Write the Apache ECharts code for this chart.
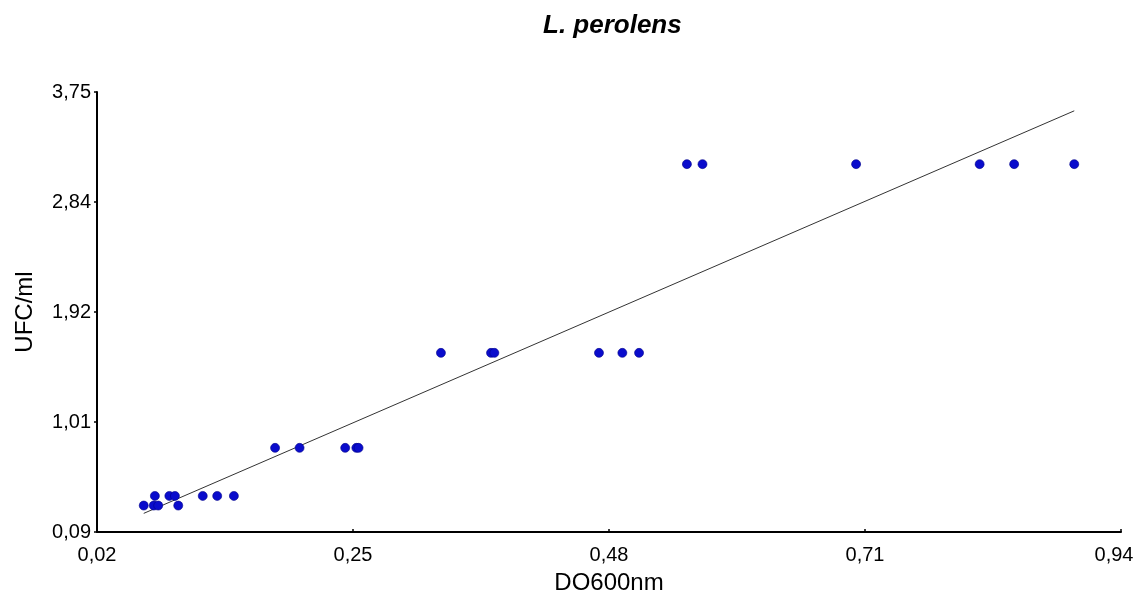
<!DOCTYPE html>
<html>
<head>
<meta charset="utf-8">
<title>L. perolens</title>
<script src="https://cdn.jsdelivr.net/npm/echarts@6/dist/echarts.min.js"></script>
<style>
  html, body { margin: 0; padding: 0; background: #ffffff; }
  #chart { width: 1137px; height: 596px; }
</style>
</head>
<body>
<div id="chart"></div>
<script>
// Optical density at 600 nm and the matching colony counts (UFC/ml)
const do600 = [
  0.062, 0.072, 0.071, 0.075, 0.085, 0.090, 0.093, 0.115, 0.128, 0.143,
  0.180, 0.202, 0.243, 0.253, 0.255,
  0.329, 0.374, 0.377, 0.471, 0.492, 0.507,
  0.550, 0.564, 0.702, 0.813, 0.844, 0.898
];
const ufc = [
  0.31, 0.39, 0.31, 0.31, 0.39, 0.39, 0.31, 0.39, 0.39, 0.39,
  0.79, 0.79, 0.79, 0.79, 0.79,
  1.58, 1.58, 1.58, 1.58, 1.58, 1.58,
  3.15, 3.15, 3.15, 3.15, 3.15, 3.15
];

// Axis tick labels (decimal comma)
const xTickLabels = ['0,02', '0,25', '0,48', '0,71', '0,94'];
const yTickLabels = ['0,09', '1,01', '1,92', '2,84', '3,75'];

const X_MIN = 0.02, X_MAX = 0.94, X_STEP = 0.23;
const Y_MIN = 0.09, Y_MAX = 3.75, Y_STEP = 0.915;

// Least-squares fit of ufc on do600
const n = do600.length;
const mx = do600.reduce((a, b) => a + b, 0) / n;
const my = ufc.reduce((a, b) => a + b, 0) / n;
let sxy = 0, sxx = 0;
for (let i = 0; i < n; i++) {
  sxy += (do600[i] - mx) * (ufc[i] - my);
  sxx += (do600[i] - mx) * (do600[i] - mx);
}
const slope = sxy / sxx;
const intercept = my - slope * mx;
const xLo = Math.min(...do600), xHi = Math.max(...do600);
const fitLine = [[xLo, intercept + slope * xLo], [xHi, intercept + slope * xHi]];

const points = do600.map((x, i) => [x, ufc[i]]);

const FONT = '"Liberation Sans", Arial, sans-serif';

const chart = echarts.init(document.getElementById('chart'), null, { renderer: 'canvas' });
chart.setOption({
  backgroundColor: '#ffffff',
  animation: false,
  title: {
    text: 'L. perolens',
    left: 538,
    top: 8,
    textStyle: { fontFamily: FONT, fontSize: 26, fontWeight: 'bold', fontStyle: 'italic', color: '#000' }
  },
  grid: { left: 97, right: 16, top: 92, bottom: 64, containLabel: false, outerBoundsMode: 'none' },
  xAxis: {
    type: 'value',
    min: X_MIN, max: X_MAX, interval: X_STEP,
    name: 'DO600nm',
    nameLocation: 'middle',
    nameGap: 39,
    nameTextStyle: { fontFamily: FONT, fontSize: 24, color: '#000' },
    axisLine: { show: true, onZero: false, lineStyle: { color: '#000', width: 2 } },
    axisTick: { show: true, inside: true, length: 3, lineStyle: { color: '#000', width: 1.5 } },
    splitLine: { show: false },
    axisLabel: {
      margin: 13,
      showMinLabel: true, showMaxLabel: true,
      fontFamily: FONT, fontSize: 20, color: '#000',
      formatter: v => {
        const i = Math.round((v - X_MIN) / X_STEP);
        // last label is nudged inwards so it stays on the canvas
        return i === xTickLabels.length - 1 ? '{last|' + xTickLabels[i] + '}' : xTickLabels[i];
      },
      rich: {
        last: { fontFamily: FONT, fontSize: 20, color: '#000', padding: [0, 14, 0, 0] }
      }
    }
  },
  yAxis: {
    type: 'value',
    min: Y_MIN, max: Y_MAX, interval: Y_STEP,
    name: 'UFC/ml',
    nameLocation: 'middle',
    nameGap: 60,
    nameRotate: 90,
    nameTextStyle: { fontFamily: FONT, fontSize: 24, color: '#000' },
    axisLine: { show: true, onZero: false, lineStyle: { color: '#000', width: 2 } },
    axisTick: { show: true, inside: false, length: 3, lineStyle: { color: '#000', width: 1.5 } },
    splitLine: { show: false },
    axisLabel: {
      margin: 6,
      showMinLabel: true, showMaxLabel: true,
      fontFamily: FONT, fontSize: 20, color: '#000',
      formatter: v => yTickLabels[Math.round((v - Y_MIN) / Y_STEP)]
    }
  },
  series: [
    {
      name: 'fit',
      type: 'line',
      data: fitLine,
      showSymbol: false,
      lineStyle: { color: '#333', width: 1 },
      z: 2,
      silent: true
    },
    {
      name: 'UFC/ml',
      type: 'scatter',
      data: points,
      symbol: 'circle',
      symbolSize: 9,
      itemStyle: { color: '#0a0ccc', borderColor: '#00008a', borderWidth: 0.6, opacity: 1 },
      z: 3
    }
  ]
});
</script>
</body>
</html>
